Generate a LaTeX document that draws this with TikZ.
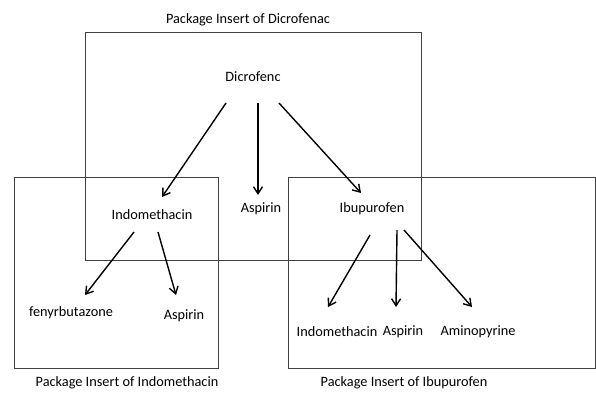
\documentclass[tikz,border=0pt]{standalone}
\usepackage{fontspec}
\setmainfont{Carlito}
\usetikzlibrary{arrows.meta,calc}
\begin{document}
\begin{tikzpicture}[x=1pt,y=-1pt,
  box/.style={draw=black!75,line width=0.9pt},
  lbl/.style={font=\fontsize{14.3}{16}\selectfont,inner sep=0pt},
  arr/.style={line width=1.4pt,-{Straight Barb[length=7pt,width=9pt,line width=1.4pt]}}]
\useasboundingbox (0,0) rectangle (596,392);
% boxes
\draw[box] (85,32) rectangle (421,260);
\draw[box] (14,177) rectangle (218,368);
\draw[box] (288,177) rectangle (595.5,368);
% titles
\node[lbl] (t1) at (248,20) {Package Insert of Dicrofenac};
\node[lbl] (t2) at (127,383) {Package Insert of Indomethacin};
\node[lbl] (t3) at (404,383) {Package Insert of Ibupurofen};
% nodes
\node[lbl] (dic) at (253,77) {Dicrofenc};
\node[lbl] (indo) at (152,215) {Indomethacin};
\node[lbl] (aspm) at (261,209) {Aspirin};
\node[lbl] (ibu) at (372,209) {Ibupurofen};
\node[lbl] (fen) at (71,313) {fenyrbutazone};
\node[lbl] (aspl) at (184,316) {Aspirin};
\node[lbl] (indor) at (337,332) {Indomethacin};
\node[lbl] (aspr) at (403,332) {Aspirin};
\node[lbl] (amino) at (478,332) {Aminopyrine};
% arrows
\draw[arr] ($(dic)+(-27,26)$) -- ($(indo)+(10,-18)$);
\draw[arr] ($(dic)+(5,26)$) -- ($(aspm)+(-3,-14)$);
\draw[arr] ($(dic)+(26,26)$) -- ($(ibu)+(-11,-16)$);
\draw[arr] ($(indo)+(-18,17)$) -- ($(fen)+(14,-18)$);
\draw[arr] ($(indo)+(6,17)$) -- ($(aspl)+(-8,-21)$);
\draw[arr] ($(ibu)+(-2,26)$) -- ($(indor)+(-9,-25)$);
\draw[arr] ($(ibu)+(25,21)$) -- ($(aspr)+(-7,-25)$);
\draw[arr] ($(ibu)+(32,21)$) -- ($(amino)+(-6,-25)$);
\end{tikzpicture}
\end{document}
